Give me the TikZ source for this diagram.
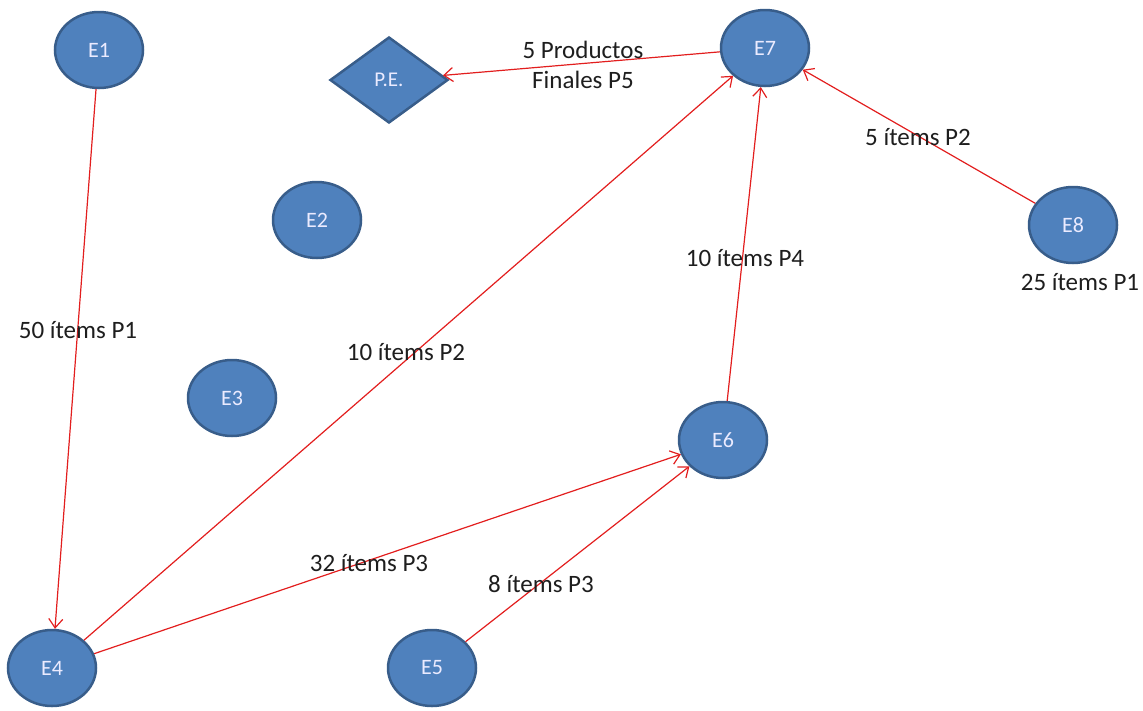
\documentclass[tikz,border=0pt]{standalone}
\usepackage{fontspec}
\setmainfont{Carlito}
\usepackage{xcolor}
\definecolor{nodefill}{RGB}{79,129,189}
\definecolor{nodeline}{RGB}{56,93,138}
\definecolor{flowred}{RGB}{226,30,30}
\definecolor{labeltext}{RGB}{30,30,30}
\usetikzlibrary{shapes.geometric,arrows.meta}

\begin{document}
\begin{tikzpicture}[x=1pt,y=-1pt,
    est/.style={ellipse,fill=nodefill,draw=nodeline,line width=2.5pt,minimum width=88pt,minimum height=76pt,inner sep=0pt,text=white!92!blue,font=\fontsize{22}{24}\selectfont},
    fin/.style={diamond,fill=nodefill,draw=nodeline,line width=2.5pt,minimum width=118pt,minimum height=86pt,inner sep=0pt,text=white!92!blue,font=\fontsize{21}{24}\selectfont},
    flow/.style={draw=flowred,line width=1.2pt,-{Straight Barb[length=9pt,width=14pt,line width=1.2pt]}},
    lbl/.style={font=\fontsize{25}{30}\selectfont,align=center,inner sep=0pt,text=labeltext}]
    \useasboundingbox (0,0) rectangle (1143,710);
            % estaciones
            \node[est] (e1) at (99,50) {E1};
            \node[est] (e2) at (317,220) {E2};
            \node[est] (e3) at (232,398) {E3};
            \node[est] (e4) at (52,668) {E4};
            \node[est] (e5) at (432,668) {E5};
            \node[est] (e6) at (723,440) {E6};
            \node[est] (e7) at (765,48) {E7};
            \node[est] (e8) at (1073,225) {E8};
            \node[fin] (pe) at (389,80) {P.E.};
            % flujos
            \draw[flow] (e1) -- (e4);
            \draw[flow] (e4) -- (e7);
            \draw[flow] (e4) -- (e6);
            \draw[flow] (e5) -- (e6);
            \draw[flow] (e6) -- (e7);
            \draw[flow] (e8) -- (e7);
            \draw[flow] (e7) -- (pe);
            % cantidades
            \node[lbl] (l1) at (78,330) {50 ítems P1};
            \node[lbl] (l2) at (406,352) {10 ítems P2};
            \node[lbl] (l3) at (369,563) {32 ítems P3};
            \node[lbl] (l4) at (541,584) {8 ítems P3};
            \node[lbl] (l5) at (745,258) {10 ítems P4};
            \node[lbl] (l6) at (918,137) {5 ítems P2};
            \node[lbl] (l7) at (1080,282) {25 ítems P1};
            \node[lbl] (l8) at (583,65) {5 Productos\\Finales P5};
    \end{tikzpicture}
\end{document}
